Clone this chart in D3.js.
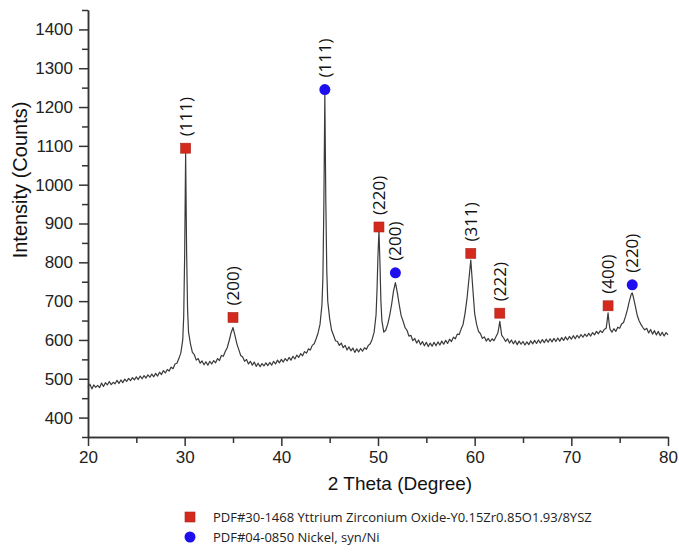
<!DOCTYPE html>
<html>
<head>
<meta charset="utf-8">
<script src="https://cdn.jsdelivr.net/npm/d3@7"></script>
<style>
  body { margin: 0; background: #fff; }
  .axis path, .axis line { stroke: #333; stroke-width: 1.5; }
  .axis text { font-family: "Liberation Sans", Arial, sans-serif; font-size: 17px; fill: #222; }
</style>
</head>
<body>
<div id="chart-area"></div>
<script>
// XRD pattern: [2 theta, counts]
var pattern = [
  [20.0,478],[20.2,486],[20.4,474],[20.6,484],[20.8,478],[21.0,483],[21.2,477],[21.4,489],[21.6,480],[21.8,490],
  [22.0,484],[22.2,493],[22.4,485],[22.6,491],[22.8,487],[23.0,496],[23.2,488],[23.4,497],[23.6,490],[23.8,499],
  [24.0,493],[24.2,501],[24.4,495],[24.6,503],[24.8,497],[25.0,505],[25.2,498],[25.4,507],[25.6,500],[25.8,508],
  [26.0,502],[26.2,510],[26.4,504],[26.6,512],[26.8,505],[27.0,514],[27.2,507],[27.4,517],[27.6,511],[27.8,521],
  [28.0,515],[28.2,524],[28.4,520],[28.6,530],[28.8,526],[29.0,538],[29.2,540],[29.4,552],[29.6,566],[29.8,600],
  [29.9,660],[30.0,820],[30.1,1080],[30.2,830],[30.3,680],[30.4,620],[30.6,590],[30.8,568],
  [31.0,562],[31.2,548],[31.4,552],[31.6,540],[31.8,546],[32.0,536],[32.2,544],[32.4,535],[32.6,545],[32.8,538],
  [33.0,547],[33.2,541],[33.4,552],[33.6,547],[33.8,560],[34.0,558],[34.2,570],[34.4,580],[34.6,598],[34.8,618],
  [35.0,632],[35.2,612],[35.4,590],[35.6,575],[35.8,560],[36.0,556],[36.2,545],[36.4,550],[36.6,538],[36.8,545],
  [37.0,535],[37.2,543],[37.4,532],[37.6,540],[37.8,531],[38.0,539],[38.2,533],[38.4,541],[38.6,534],[38.8,542],
  [39.0,535],[39.2,545],[39.4,538],[39.6,548],[39.8,541],[40.0,550],[40.2,543],[40.4,552],[40.6,546],[40.8,555],
  [41.0,548],[41.2,558],[41.4,551],[41.6,561],[41.8,555],[42.0,565],[42.2,559],[42.4,570],[42.6,566],[42.8,577],
  [43.0,574],[43.2,586],[43.4,590],[43.6,603],[43.8,618],[44.0,640],[44.2,690],[44.3,760],[44.4,950],[44.5,1232],
  [44.6,960],[44.7,780],[44.8,700],[45.0,655],[45.2,625],[45.4,612],[45.6,598],[45.8,596],
  [46.0,586],[46.2,592],[46.4,580],[46.6,586],[46.8,574],[47.0,582],[47.2,572],[47.4,579],[47.6,568],[47.8,577],
  [48.0,569],[48.2,578],[48.4,571],[48.6,580],[48.8,576],[49.0,586],[49.2,590],[49.4,602],[49.6,620],[49.8,665],
  [49.9,730],[50.0,820],[50.1,882],[50.2,800],[50.3,700],[50.4,650],[50.6,620],[50.8,625],
  [51.0,640],[51.2,662],[51.4,690],[51.6,725],[51.8,748],[52.0,722],[52.2,690],[52.4,662],[52.6,648],[52.8,632],
  [53.0,625],[53.2,610],[53.4,612],[53.6,598],[53.8,604],[54.0,592],[54.2,600],[54.4,588],[54.6,596],[54.8,585],
  [55.0,594],[55.2,583],[55.4,592],[55.6,584],[55.8,594],[56.0,585],[56.2,595],[56.4,587],[56.6,597],[56.8,589],
  [57.0,599],[57.2,591],[57.4,602],[57.6,596],[57.8,607],[58.0,603],[58.2,615],[58.4,614],[58.6,628],[58.8,640],
  [59.0,668],[59.2,705],[59.4,755],[59.6,806],[59.8,735],[60.0,668],[60.2,640],[60.4,622],[60.6,616],[60.8,604],
  [61.0,608],[61.2,597],[61.4,604],[61.6,596],[61.8,603],[62.0,598],[62.2,608],[62.4,618],[62.5,632],[62.6,648],
  [62.7,630],[62.8,612],[63.0,605],[63.2,596],[63.4,603],[63.6,592],[63.8,600],
  [64.0,590],[64.2,598],[64.4,588],[64.6,597],[64.8,589],[65.0,596],[65.2,587],[65.4,595],[65.6,588],[65.8,598],
  [66.0,590],[66.2,599],[66.4,591],[66.6,600],[66.8,592],[67.0,601],[67.2,593],[67.4,602],[67.6,594],[67.8,603],
  [68.0,595],[68.2,604],[68.4,596],[68.6,605],[68.8,597],[69.0,606],[69.2,599],[69.4,608],[69.6,600],[69.8,609],
  [70.0,602],[70.2,611],[70.4,603],[70.6,612],[70.8,605],[71.0,614],[71.2,607],[71.4,615],[71.6,609],[71.8,617],
  [72.0,610],[72.2,619],[72.4,613],[72.6,622],[72.8,616],[73.0,624],[73.2,619],[73.4,627],[73.6,630],[73.7,648],
  [73.8,670],[73.9,645],[74.0,628],[74.2,620],[74.4,629],[74.6,622],[74.8,633],[75.0,630],[75.2,641],[75.4,645],
  [75.6,660],[75.8,678],[76.0,700],[76.2,718],[76.3,721],[76.4,712],[76.6,690],[76.8,665],[77.0,650],[77.2,640],
  [77.4,632],[77.6,626],[77.8,630],[78.0,618],[78.2,627],[78.4,615],[78.6,624],[78.8,613],[79.0,622],[79.2,611],
  [79.4,620],[79.6,610],[79.8,619],[80.0,613]
];

// reference peak markers
var yszAngle = [30.1, 35.0, 50.1, 59.6, 62.6, 73.8];
var yszCounts = [1094, 658, 891, 823, 669, 688];
var yszHkl = ["(111)", "(200)", "(220)", "(311)", "(222)", "(400)"];

var niAngle = [44.5, 51.8, 76.3];
var niCounts = [1245, 773, 742];
var niHkl = ["(111)", "(200)", "(220)"];

var yMajorTicks = [400, 500, 600, 700, 800, 900, 1000, 1100, 1200, 1300, 1400];
var xMajorTicks = [20, 30, 40, 50, 60, 70, 80];

var legendLabels = [
  "PDF#30-1468 Yttrium Zirconium Oxide-Y0.15Zr0.85O1.93/8YSZ",
  "PDF#04-0850 Nickel, syn/Ni"
];

var margin = { left: 88, right: 11, top: 10, bottom: 117 };
var width = 679 - margin.left - margin.right,
    height = 554 - margin.top - margin.bottom;

var svg = d3.select("#chart-area")
  .append("svg")
    .attr("width", 679)
    .attr("height", 554);

var g = svg.append("g")
  .attr("transform", "translate(" + margin.left + "," + margin.top + ")");

var x = d3.scaleLinear().domain([20, 80]).range([0, width]);
var y = d3.scaleLinear().domain([350, 1450]).range([height, 0]);

// minor ticks first, then labelled major ticks
g.append("g")
  .attr("class", "axis")
  .attr("transform", "translate(0," + height + ")")
  .call(d3.axisBottom(x).tickValues(d3.range(25, 80, 10)).tickSize(6).tickSizeOuter(0).tickFormat(""));
g.append("g")
  .attr("class", "axis")
  .attr("transform", "translate(0," + height + ")")
  .call(d3.axisBottom(x).tickValues(xMajorTicks).tickSize(9).tickSizeOuter(0).tickPadding(5).tickFormat(d3.format("d")));

g.append("g")
  .attr("class", "axis")
  .call(d3.axisLeft(y).tickValues(d3.range(350, 1451, 100)).tickSize(6).tickSizeOuter(0).tickFormat(""));
g.append("g")
  .attr("class", "axis")
  .call(d3.axisLeft(y).tickValues(yMajorTicks).tickSize(9).tickSizeOuter(0).tickPadding(6).tickFormat(d3.format("d")));

// pattern
var line = d3.line()
  .x(function(d) { return x(d[0]); })
  .y(function(d) { return y(d[1]); });

g.append("path")
  .datum(pattern)
  .attr("fill", "none")
  .attr("stroke", "#3a3a3a")
  .attr("stroke-width", 1.2)
  .attr("stroke-linejoin", "round")
  .attr("d", line);

// YSZ squares
var ysz = yszAngle.map(function(a, i) { return { a: a, c: yszCounts[i], hkl: yszHkl[i] }; });
var ni = niAngle.map(function(a, i) { return { a: a, c: niCounts[i], hkl: niHkl[i] }; });

g.selectAll(".ysz")
  .data(ysz)
  .enter().append("rect")
    .attr("class", "ysz")
    .attr("x", function(d) { return x(d.a) - 5; })
    .attr("y", function(d) { return y(d.c) - 5; })
    .attr("width", 10)
    .attr("height", 10)
    .attr("fill", "#d42a1e")
    .attr("stroke", "#a8231a")
    .attr("stroke-width", 0.6);

g.selectAll(".ni")
  .data(ni)
  .enter().append("circle")
    .attr("class", "ni")
    .attr("cx", function(d) { return x(d.a); })
    .attr("cy", function(d) { return y(d.c); })
    .attr("r", 5.5)
    .attr("fill", "#1e10ee");

// hkl labels
g.selectAll(".hkl")
  .data(ysz.concat(ni))
  .enter().append("text")
    .attr("class", "hkl")
    .attr("transform", function(d) {
      return "translate(" + x(d.a) + "," + (y(d.c) - 12) + ") rotate(-90)";
    })
    .attr("dy", "0.35em")
    .attr("font-family", "'Open Sans', sans-serif")
    .attr("font-size", "17px")
    .attr("fill", "#111")
    .text(function(d) { return d.hkl; });

// axis labels
svg.append("text")
  .attr("x", 400)
  .attr("y", 490)
  .attr("text-anchor", "middle")
  .attr("font-family", "'Liberation Sans', Arial, sans-serif")
  .attr("font-size", "19px")
  .attr("fill", "#111")
  .text("2 Theta (Degree)");

svg.append("text")
  .attr("transform", "translate(27,180) rotate(-90)")
  .attr("text-anchor", "middle")
  .attr("font-family", "'Liberation Sans', Arial, sans-serif")
  .attr("font-size", "20px")
  .attr("fill", "#111")
  .text("Intensity (Counts)");

// legend
var legend = svg.append("g").attr("transform", "translate(190,517)");
legend.append("rect")
  .attr("x", -5).attr("y", -5).attr("width", 10).attr("height", 10)
  .attr("fill", "#d42a1e").attr("stroke", "#a8231a").attr("stroke-width", 0.6);
legend.append("circle")
  .attr("cx", 0).attr("cy", 20).attr("r", 5.5)
  .attr("fill", "#1e10ee");
legend.selectAll(".leg")
  .data(legendLabels)
  .enter().append("text")
    .attr("x", 23)
    .attr("y", function(d, i) { return i * 20; })
    .attr("dy", "0.35em")
    .attr("font-family", "'Open Sans', sans-serif")
    .attr("font-size", "13px")
    .attr("fill", "#222")
    .text(function(d) { return d; });
</script>
</body>
</html>
